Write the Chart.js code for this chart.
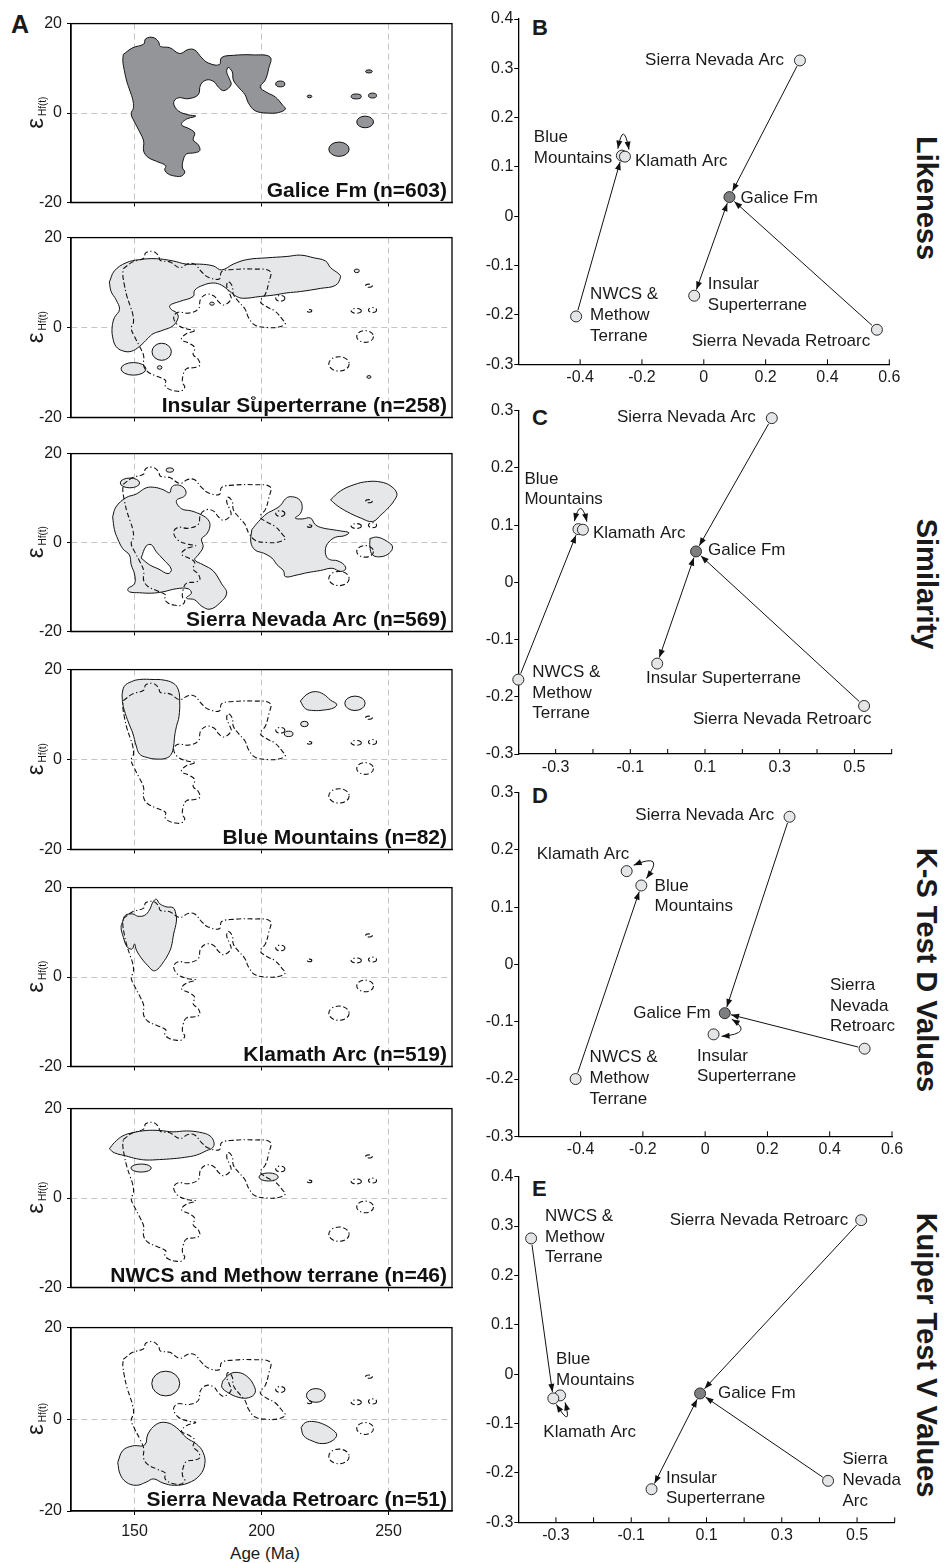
<!DOCTYPE html>
<html>
<head>
<meta charset="utf-8">
<script src="https://cdn.jsdelivr.net/npm/chart.js@4.4.1/dist/chart.umd.min.js"></script>
<style>
  body { margin: 0; background: #fff; width: 944px; height: 1563px; position: relative; overflow: hidden;
         font-family: 'Liberation Sans', Arial, sans-serif; color: #1a1a1a; }
  .box { position: absolute; }
  .txt { position: absolute; line-height: 1; white-space: nowrap; }
  .side { position: absolute; line-height: 1; white-space: nowrap; font-weight: bold; font-size: 29px;
          transform: translate(-50%, -50%) rotate(90deg); }
</style>
</head>
<body>
<div class="txt" style="left:11px;top:12px;font-weight:bold;font-size:25px">A</div>
<div class="txt" style="left:532px;top:17px;font-weight:bold;font-size:22px">B</div>
<div class="txt" style="left:532px;top:407px;font-weight:bold;font-size:22px">C</div>
<div class="txt" style="left:532px;top:785px;font-weight:bold;font-size:22px">D</div>
<div class="txt" style="left:532px;top:1178px;font-weight:bold;font-size:22px">E</div>
<div class="side" style="left:926px;top:198px">Likeness</div>
<div class="side" style="left:926px;top:584px">Similarity</div>
<div class="side" style="left:926px;top:970px">K-S Test D Values</div>
<div class="side" style="left:926px;top:1355px">Kuiper Test V Values</div>
<div class="txt" style="left:265px;top:1545px;transform:translateX(-50%);font-size:17px">Age (Ma)</div>

<script>
// ---------- left column: εHf(t) vs age density contours ----------
const ageTicks = [150, 200, 250];
const epsTicks = [-20, 0, 20];
const ageRange = [125, 275];
const epsRange = [-20, 20];

const panelTitles = ['Galice Fm (n=603)', 'Insular Superterrane (n=258)', 'Sierra Nevada Arc (n=569)',
  'Blue Mountains (n=82)', 'Klamath Arc (n=519)', 'NWCS and Methow terrane (n=46)', 'Sierra Nevada Retroarc (n=51)'];

// contour outlines [age, eps]
const galiceMain = [[145.6,13.1],[149.3,14.6],[153.6,15.4],[154.4,16.6],[157.3,16.9],[159.4,16.0],[160.2,14.9],
  [163.9,14.6],[167.8,13.3],[171.1,14.2],[173.7,14.1],[176.4,12.4],[179.0,11.2],[183.4,10.8],[184.3,12.4],
  [188.9,12.9],[196.8,13.0],[203.4,12.5],[202.8,9.9],[201.5,7.4],[199.5,5.8],[202.1,4.6],[205.4,3.6],[208.4,1.7],
  [209.4,0.9],[206.7,0.1],[202.1,0.0],[197.5,0.5],[194.9,2.2],[193.5,4.1],[190.9,5.8],[188.9,7.4],[188.5,9.2],
  [186.9,10.2],[186.3,9.2],[187.3,7.7],[188.0,6.3],[185.2,5.0],[183.0,5.8],[181.3,7.0],[178.4,7.4],[176.0,6.3],
  [175.1,4.1],[171.1,3.2],[167.2,3.4],[165.4,2.3],[167.2,0.5],[171.1,-0.4],[174.1,-0.7],[170.4,-1.4],[168.5,-2.6],
  [171.8,-3.6],[173.7,-4.5],[173.1,-6.0],[175.1,-7.1],[175.7,-8.4],[173.7,-8.9],[170.4,-9.2],[169.1,-10.7],
  [168.9,-12.3],[169.8,-13.2],[168.5,-14.1],[165.8,-14.1],[163.2,-13.6],[161.9,-12.7],[162.3,-11.8],[158.6,-10.8],
  [155.3,-9.9],[153.6,-8.5],[153.6,-6.3],[152.0,-4.2],[150.0,-2.0],[148.7,-0.2],[149.6,1.2],[149.3,3.0],[148.3,4.8],
  [147.0,7.0],[146.0,9.5],[145.4,11.7]];
// small contours [age, eps, half-width, half-height]
const galiceSpots = [[207.4,6.5,1.8,0.65],[218.9,3.7,0.9,0.3],[237.3,3.7,2.0,0.55],[243.7,3.9,1.6,0.55],
  [242.3,9.3,1.3,0.35],[240.8,-2.0,3.3,1.3],[230.5,-8.1,4.0,1.6]];

const insularMain = [[140.1,10.1],[142.1,12.6],[146.7,14.4],[152.0,15.1],[158.6,15.3],[165.2,14.8],[170.4,14.1],
  [175.7,14.1],[181.0,13.7],[184.3,12.8],[188.9,14.1],[194.2,15.1],[202.1,15.5],[210.0,15.8],[215.3,16.1],
  [220.6,15.5],[225.2,14.8],[227.2,13.3],[230.5,11.9],[231.1,11.2],[229.2,9.4],[223.2,8.7],[215.3,8.0],[210.0,7.7],
  [204.7,7.2],[199.5,6.9],[192.9,6.5],[190.2,6.9],[187.6,8.0],[184.3,9.4],[181.0,9.9],[177.0,9.4],[173.7,8.3],
  [173.1,6.9],[167.8,5.8],[163.9,4.9],[164.5,4.0],[166.5,3.3],[167.2,2.2],[165.2,0.4],[161.2,-0.6],[157.3,-1.4],
  [155.3,-2.4],[152.0,-4.2],[148.7,-5.3],[145.4,-5.2],[142.7,-4.2],[141.4,-2.1],[141.2,0.1],[142.1,2.2],[144.1,4.0],
  [142.7,6.2],[140.8,8.0]];
const insularSpots = [[160.7,-5.4,3.8,1.9],[149.6,-9.2,4.9,1.4],[159.9,-8.9,0.9,0.4],[180.5,5.3,0.9,0.35],
  [196.8,-15.7,0.8,0.3],[237.5,12.6,1.0,0.4],[242.3,-11.0,0.8,0.3]];

const snaLeft = [[141.4,5.8],[142.7,8.0],[146.7,10.1],[150.7,10.9],[154.6,12.3],[157.9,12.4],[161.2,11.9],[163.9,11.2],
  [164.5,12.3],[165.8,12.9],[168.5,12.7],[170.2,11.6],[169.8,10.5],[166.5,9.4],[168.5,7.6],[172.4,7.1],[176.4,6.2],
  [179.0,5.1],[179.7,3.7],[178.4,1.9],[176.4,0.8],[177.0,-1.0],[175.1,-2.8],[173.7,-3.9],[177.0,-5.0],[181.0,-6.4],
  [184.3,-9.3],[186.3,-11.4],[183.6,-13.6],[179.7,-15.0],[176.4,-14.3],[173.7,-12.9],[170.4,-12.5],[172.4,-11.4],
  [171.1,-10.4],[166.5,-10.4],[161.2,-11.1],[156.6,-11.4],[152.0,-11.3],[148.0,-11.1],[147.4,-10.4],[150.0,-9.3],
  [150.0,-7.1],[148.7,-5.0],[148.0,-2.8],[145.4,-1.4],[143.4,0.8],[142.1,2.9]];
const snaHole = [[152.6,-3.5],[154.6,-0.8],[156.6,-0.5],[158.6,-2.1],[161.2,-3.7],[164.5,-6.0],[163.2,-7.0],
  [159.6,-6.0],[155.9,-5.0]];
const snaMid = [[196.2,2.9],[198.8,4.7],[202.1,6.5],[204.7,7.3],[207.4,8.3],[209.4,9.8],[211.3,10.3],[214.6,9.8],
  [216.0,8.3],[215.3,6.5],[213.3,5.5],[216.0,5.3],[219.3,5.5],[221.2,4.0],[223.9,3.3],[227.8,2.9],[231.1,2.6],
  [234.4,2.2],[232.5,1.5],[229.2,1.2],[226.5,0.1],[225.2,-1.4],[225.6,-3.2],[227.2,-3.9],[229.8,-4.1],[232.5,-5.0],
  [233.1,-6.0],[231.1,-6.5],[227.8,-5.8],[223.2,-6.3],[217.9,-6.8],[214.0,-7.3],[209.4,-7.7],[208.7,-6.4],
  [206.1,-5.0],[204.1,-3.5],[200.8,-2.4],[197.5,-1.7],[195.8,0.1]];
const snaTopRight = [[227.2,9.6],[231.1,11.6],[236.4,13.0],[241.7,13.7],[247.0,13.6],[250.9,12.7],[253.3,11.0],
  [252.2,9.4],[249.6,7.6],[247.0,6.2],[243.7,4.7],[239.1,5.5],[233.8,6.9],[229.8,8.3]];
const snaRight = [[242.7,0.9],[245.6,1.2],[249.6,0.2],[251.6,-1.0],[250.3,-2.4],[247.0,-3.2],[243.7,-2.8],[242.7,-1.0]];
const snaSpots = [[148.2,13.4,3.8,1.1],[163.9,16.3,1.5,0.5]];

const blueMain = [[145.1,14.5],[146.0,16.3],[148.7,17.3],[152.0,17.8],[157.3,17.8],[161.2,17.7],[165.2,17.0],
  [167.2,15.6],[167.8,13.0],[167.5,9.5],[166.5,7.3],[165.8,5.2],[165.4,3.0],[164.5,1.2],[162.5,0.3],[158.6,0.1],
  [154.6,0.5],[152.0,1.2],[150.7,3.0],[149.3,5.9],[148.0,7.7],[146.4,10.2],[145.4,12.3]];
const blueRight = [[215.3,13.0],[217.9,14.5],[221.2,15.1],[224.5,14.5],[227.2,13.2],[229.6,12.3],[228.5,11.5],
  [224.5,11.0],[220.6,10.9],[217.3,11.3]];
const blueSpots = [[236.8,12.5,4.0,1.6],[216.9,7.9,1.5,0.6],[210.7,5.7,1.7,0.6]];

const klamathMain = [[145.4,12.5],[146.4,13.8],[149.3,14.1],[151.3,13.6],[154.0,13.8],[155.9,15.0],[157.3,16.8],
  [158.6,17.4],[159.9,16.4],[162.5,15.7],[165.2,15.5],[166.2,14.3],[166.5,12.5],[165.4,9.6],[164.5,6.8],[163.2,5.0],
  [161.2,3.2],[159.2,1.8],[157.5,1.4],[155.3,2.5],[152.6,4.3],[150.7,6.1],[150.0,7.4],[149.3,6.4],[148.7,6.2],
  [147.0,6.8],[145.6,8.9],[144.7,11.1]];

const nwcsMain = [[140.1,11.0],[142.1,12.4],[145.4,13.9],[149.3,14.6],[154.6,15.1],[159.9,15.1],[165.2,14.8],
  [170.4,15.0],[175.7,14.7],[179.7,13.9],[181.3,12.4],[180.7,11.2],[178.4,10.6],[174.4,9.6],[169.8,9.1],[165.2,8.8],
  [159.9,8.6],[154.6,8.5],[150.7,8.8],[146.7,9.4],[142.1,10.1]];
const nwcsSpots = [[152.6,6.7,4.0,0.9],[202.8,4.7,3.8,0.9]];

const retroBottom = [[143.4,-9.4],[145.4,-6.8],[149.3,-5.8],[154.0,-5.6],[155.3,-3.2],[158.6,-1.1],[162.5,-0.7],
  [166.5,-1.8],[170.4,-4.0],[174.4,-5.4],[177.0,-7.2],[177.7,-9.7],[175.7,-12.2],[171.1,-13.9],[165.8,-14.4],
  [161.2,-13.9],[157.5,-13.0],[154.6,-13.7],[150.7,-14.4],[146.7,-13.7],[144.3,-11.9]];
const retroMid = [[184.7,8.3],[187.6,9.9],[190.9,10.2],[194.2,9.4],[196.8,7.6],[197.5,5.8],[194.9,4.7],[190.9,4.8],
  [186.9,5.8],[184.4,7.0]];
const retroRight = [[215.6,-1.8],[217.3,-0.7],[220.6,-0.5],[224.5,-1.1],[227.8,-2.2],[229.6,-3.4],[227.8,-4.7],
  [223.9,-5.3],[219.9,-4.7],[216.6,-3.6]];
const retroSpots = [[162.3,7.8,5.5,2.7],[221.4,5.2,3.7,1.5]];

const leftPanels = [
  { shapes: [], holes: [], spots: [] },
  { shapes: [insularMain], holes: [], spots: insularSpots },
  { shapes: [snaLeft, snaMid, snaTopRight, snaRight], holes: [snaHole], spots: snaSpots },
  { shapes: [blueMain, blueRight], holes: [], spots: blueSpots },
  { shapes: [klamathMain], holes: [], spots: [] },
  { shapes: [nwcsMain], holes: [], spots: nwcsSpots },
  { shapes: [retroBottom, retroMid, retroRight], holes: [], spots: retroSpots }
];

// ---------- right column: MDS plots ----------
// order: Galice Fm, Sierra Nevada Arc, Blue Mountains, Klamath Arc, Insular Superterrane, NWCS & Methow, SN Retroarc
const likenessX   = [0.083, 0.311, -0.265, -0.255, -0.031, -0.413, 0.560];
const likenessY   = [0.039, 0.316, 0.123, 0.121, -0.161, -0.203, -0.230];
const similarityX = [0.076, 0.279, -0.239, -0.227, -0.028, -0.400, 0.526];
const similarityY = [0.054, 0.287, 0.093, 0.092, -0.142, -0.170, -0.216];
const ksX         = [0.063, 0.271, -0.205, -0.252, 0.027, -0.416, 0.512];
const ksY         = [-0.085, 0.258, 0.138, 0.163, -0.122, -0.200, -0.147];
const kuiperX     = [0.083, 0.423, -0.289, -0.307, -0.046, -0.366, 0.511];
const kuiperY     = [-0.039, -0.216, -0.043, -0.049, -0.233, 0.275, 0.312];

const mdsXRange = [[-0.6, 0.6], [-0.4, 0.6], [-0.6, 0.6], [-0.4, 0.6]];
const mdsYRange = [[-0.3, 0.4], [-0.3, 0.3], [-0.3, 0.3], [-0.3, 0.4]];
const evenTicks = [-0.4, -0.2, 0, 0.2, 0.4, 0.6];
const tenthTicks = [-0.3, -0.2, -0.1, 0, 0.1, 0.2, 0.3, 0.4, 0.5, 0.6];
const oddLabels = [-0.3, -0.1, 0.1, 0.3, 0.5];
const yTicksTall = [-0.3, -0.2, -0.1, 0, 0.1, 0.2, 0.3, 0.4];
const yTicksShort = [-0.3, -0.2, -0.1, 0, 0.1, 0.2, 0.3];

// arrows [from, to, heads]; loops [a, b] drawn as curved double arrows
const likenessArrows   = [[1, 0, 1], [5, 2, 1], [4, 0, 2], [6, 0, 1]];
const similarityArrows = [[1, 0, 1], [5, 2, 1], [4, 0, 2], [6, 0, 1]];
const ksArrows         = [[1, 0, 1], [5, 2, 1], [6, 0, 1]];
const kuiperArrows     = [[5, 3, 1], [6, 0, 1], [1, 0, 1], [4, 0, 2]];
const likenessLoops = [[2, 3]];
const similarityLoops = [[2, 3]];
const ksLoops = [[3, 2], [0, 4]];
const kuiperLoops = [[3, 2]];

// ---------- layout / style ----------
Chart.defaults.font.family = "'Liberation Sans', Arial, sans-serif";
Chart.defaults.font.size = 16;
Chart.defaults.color = '#1a1a1a';

const FONT = "'Liberation Sans', Arial, sans-serif";
const leftTops = [21.7, 235.7, 451, 667.7, 885, 1106.7, 1325.7];
const leftBottoms = [206.7, 421.7, 636, 853.3, 1070.7, 1291.7, 1511];
const sampleFill = '#e6e7e8';
const galiceFill = '#939598';
const galiceDash = [5, 2.5, 5, 2.5, 1.3, 2.5];

function place(x, y, w, h) {
  const d = document.createElement('div');
  d.className = 'box';
  d.style.left = x + 'px';
  d.style.top = y + 'px';
  d.style.width = w + 'px';
  d.style.height = h + 'px';
  const c = document.createElement('canvas');
  d.appendChild(c);
  document.body.appendChild(d);
  return c;
}

function poly(pts, fill, dash, order) {
  return {
    data: pts.concat([pts[0]]).map(([x, y]) => ({ x, y })),
    order: order,
    borderColor: '#111',
    borderWidth: dash.length ? 1.1 : 1,
    borderDash: dash,
    borderJoinStyle: 'round',
    backgroundColor: fill || 'rgba(0,0,0,0)',
    fill: fill ? 'shape' : false,
    tension: 0.4,
    pointRadius: 0
  };
}

function drawSpots(chart, spots, fill, dash) {
  const { ctx, scales: { x, y } } = chart;
  ctx.save();
  ctx.lineWidth = dash.length ? 1.1 : 1;
  ctx.strokeStyle = '#111';
  ctx.setLineDash(dash);
  spots.forEach(([cx, cy, rx, ry]) => {
    const px = x.getPixelForValue(cx), py = y.getPixelForValue(cy);
    const prx = Math.abs(x.getPixelForValue(cx + rx) - px);
    const pry = Math.abs(y.getPixelForValue(cy + ry) - py);
    ctx.beginPath();
    ctx.ellipse(px, py, prx, pry, 0, 0, Math.PI * 2);
    if (fill) { ctx.fillStyle = fill; ctx.fill(); }
    ctx.stroke();
  });
  ctx.restore();
}

function leftPanel(i) {
  const p = leftPanels[i];
  const T = leftTops[i], B = leftBottoms[i], last = i === 6;
  const top = Math.floor(T) - 12;
  const height = Math.ceil(B + (last ? 52 : 10)) - top;
  const xH = top + height - B;
  const canvas = place(0, top, 470, height);

  const datasets = [];
  if (i === 0) {
    datasets.push(poly(galiceMain, galiceFill, [], 1));
  } else {
    p.shapes.forEach(s => datasets.push(poly(s, sampleFill, [], 3)));
    p.holes.forEach(s => datasets.push(poly(s, '#fff', [], 2)));
    datasets.push(poly(galiceMain, null, galiceDash, 1));
  }

  new Chart(canvas, {
    type: 'line',
    data: { datasets },
    options: {
      animation: false,
      responsive: true,
      maintainAspectRatio: false,
      layout: { padding: { top: T - top, right: 18, left: 0, bottom: 0 } },
      plugins: { legend: { display: false }, tooltip: { enabled: false } },
      scales: {
        x: {
          type: 'linear', min: ageRange[0], max: ageRange[1],
          afterBuildTicks: s => { s.ticks = ageTicks.map(v => ({ value: v })); },
          afterFit: s => { s.height = xH; },
          ticks: { display: last, padding: 7, font: { size: 16 }, callback: v => String(v) },
          grid: { color: '#c4c4c4', lineWidth: 1, tickColor: '#000', tickLength: 4, tickWidth: 1, tickBorderDash: [] },
          border: { display: true, color: '#000', width: 1.3, dash: [6, 4] }
        },
        y: {
          min: epsRange[0], max: epsRange[1],
          afterBuildTicks: s => { s.ticks = epsTicks.map(v => ({ value: v })); },
          afterFit: s => { s.width = 71; },
          ticks: { padding: 5, font: { size: 16 }, callback: v => String(v) },
          grid: {
            color: c => (c.tick && c.tick.value === 0 ? '#c4c4c4' : 'rgba(0,0,0,0)'),
            lineWidth: 1, tickColor: '#000', tickLength: 4, tickWidth: 1, tickBorderDash: []
          },
          border: { display: true, color: '#000', width: 1.3, dash: [6, 4] }
        }
      }
    },
    plugins: [{
      id: 'contours',
      beforeDatasetsDraw(chart) {
        if (i === 0) drawSpots(chart, galiceSpots, galiceFill, []);
        else drawSpots(chart, p.spots, sampleFill, []);
      },
      afterDatasetsDraw(chart) {
        if (i > 0) drawSpots(chart, galiceSpots, null, galiceDash);
      },
      afterDraw(chart) {
        const { ctx, chartArea: a } = chart;
        ctx.save();
        ctx.strokeStyle = '#000';
        ctx.lineWidth = 1.3;
        ctx.strokeRect(a.left, a.top, a.right - a.left, a.bottom - a.top);
        ctx.fillStyle = '#111';
        ctx.font = 'bold 21px ' + FONT;
        ctx.textAlign = 'right';
        ctx.textBaseline = 'alphabetic';
        ctx.fillText(panelTitles[i], a.right - 5, a.bottom - 5);
        // y axis title: ε Hf(t), rotated
        ctx.translate(43, chart.scales.y.getPixelForValue(0));
        ctx.rotate(-Math.PI / 2);
        ctx.fillStyle = '#1a1a1a';
        ctx.font = '24px ' + FONT;
        ctx.fillText('ε', -5, 0);
        ctx.font = '10px ' + FONT;
        ctx.textAlign = 'left';
        ctx.fillText('Hf(t)', -3, 3);
        ctx.restore();
      }
    }]
  });
}

for (let i = 0; i < 7; i++) leftPanel(i);

// ---------- MDS panels ----------
const mdsX = [likenessX, similarityX, ksX, kuiperX];
const mdsY = [likenessY, similarityY, ksY, kuiperY];
const mdsXTicks = [evenTicks, tenthTicks, evenTicks, tenthTicks];
const mdsXLabels = [evenTicks, oddLabels, evenTicks, oddLabels];
const mdsYTicks = [yTicksTall, yTicksShort, yTicksShort, yTicksTall];
const mdsArrows = [likenessArrows, similarityArrows, ksArrows, kuiperArrows];
const mdsLoops = [likenessLoops, similarityLoops, ksLoops, kuiperLoops];

const mdsArea = [[19, 364.3, 889.3], [410.7, 754, 891.7], [792.7, 1136.3, 892], [1176.7, 1522.3, 894.7]];
// loop styling: [offset at start, offset at end, control bend] in px
const loopStyle = [
  [[[-4, -7], [4, -7], [0, -30]]],
  [[[-4, -8], [4, -8], [0, -26]]],
  [[[7, -6], [5, -7], [26, -20]], [[7, 6], [8, 2], [28, 5.6]]],
  [[[3, 6], [5, 7], [12, 27]]]
];
// label placement: [point, lines, dx, dy, align]
const mdsLabels = [
  [[1, ['Sierra Nevada Arc'], -16, 0, 'right'], [2, ['Blue', 'Mountains'], -88, -18, 'left'],
   [3, ['Klamath Arc'], 10, 5, 'left'], [0, ['Galice Fm'], 11, 1, 'left'],
   [4, ['Insular', 'Superterrane'], 13.6, -11, 'left'], [5, ['NWCS &', 'Methow', 'Terrane'], 14, -21.7, 'left'],
   [6, ['Sierra Nevada Retroarc'], -6.7, 11.7, 'right']],
  [[1, ['Sierra Nevada Arc'], -16, -1, 'right'], [2, ['Blue', 'Mountains'], -54, -50.3, 'left'],
   [3, ['Klamath Arc'], 10, 4, 'left'], [0, ['Galice Fm'], 12, -1, 'left'],
   [4, ['Insular Superterrane'], -11.3, 14.3, 'left'], [5, ['NWCS &', 'Methow', 'Terrane'], 14, -7.3, 'left'],
   [6, ['Sierra Nevada Retroarc'], 7.4, 13.4, 'right']],
  [[1, ['Sierra Nevada Arc'], -15.3, -1, 'right'], [3, ['Klamath Arc'], 2.7, -17, 'right'],
   [2, ['Blue', 'Mountains'], 13.3, 0.4, 'left'], [0, ['Galice Fm'], -14, 0, 'right'],
   [4, ['Insular', 'Superterrane'], -16.6, 21.7, 'left'], [6, ['Sierra', 'Nevada', 'Retroarc'], -34.7, -63.3, 'left'],
   [5, ['NWCS &', 'Methow', 'Terrane'], 14, -21.3, 'left']],
  [[5, ['NWCS &', 'Methow', 'Terrane'], 14, -22.3, 'left'], [6, ['Sierra Nevada Retroarc'], -13, 0, 'right'],
   [2, ['Blue', 'Mountains'], -4, -36.3, 'left'], [3, ['Klamath Arc'], -10, 33.7, 'left'],
   [0, ['Galice Fm'], 18, 0, 'left'], [4, ['Insular', 'Superterrane'], 14.4, -11.3, 'left'],
   [1, ['Sierra', 'Nevada', 'Arc'], 14.3, -21.4, 'left']]
];

function head(ctx, x, y, ang) {
  const L = 8, W = 3;
  const c = Math.cos(ang), s = Math.sin(ang);
  ctx.beginPath();
  ctx.moveTo(x, y);
  ctx.lineTo(x - L * c + W * s, y - L * s - W * c);
  ctx.lineTo(x - L * c - W * s, y - L * s + W * c);
  ctx.closePath();
  ctx.fill();
}

function mdsPanel(k) {
  const [aTop, aBottom, aRight] = mdsArea[k];
  const top = Math.floor(aTop) - 12;
  const height = Math.ceil(aBottom + 30) - top;
  const xH = top + height - aBottom;
  const canvas = place(470, top, 474, height);
  const xs = mdsX[k], ys = mdsY[k];

  new Chart(canvas, {
    type: 'scatter',
    data: {
      datasets: [{
        data: xs.map((x, i) => ({ x, y: ys[i] })),
        pointRadius: 5.5,
        pointBackgroundColor: xs.map((_, i) => (i === 0 ? '#7d7e80' : '#e4e5e6')),
        pointBorderColor: '#2a2a2a',
        pointBorderWidth: 1,
        clip: false
      }]
    },
    options: {
      animation: false,
      responsive: true,
      maintainAspectRatio: false,
      layout: { padding: { top: aTop - top, right: 944 - aRight, left: 0, bottom: 0 } },
      plugins: { legend: { display: false }, tooltip: { enabled: false } },
      scales: {
        x: {
          type: 'linear', min: mdsXRange[k][0], max: mdsXRange[k][1],
          afterBuildTicks: s => { s.ticks = mdsXTicks[k].map(v => ({ value: v })); },
          afterFit: s => { s.height = xH; },
          ticks: {
            padding: 4, font: { size: 16 },
            callback: v => (mdsXLabels[k].some(l => Math.abs(l - v) < 1e-6) ? String(+v.toFixed(1)) : '')
          },
          grid: { display: false, drawTicks: false },
          border: { display: true, color: '#000', width: 1.3 }
        },
        y: {
          min: mdsYRange[k][0], max: mdsYRange[k][1],
          afterBuildTicks: s => { s.ticks = mdsYTicks[k].map(v => ({ value: v })); },
          afterFit: s => { s.width = 48.3; },
          ticks: { padding: 1, font: { size: 16 }, callback: v => String(+v.toFixed(1)) },
          grid: { drawOnChartArea: false, drawTicks: true, tickLength: 4, color: '#000', tickColor: '#000' },
          border: { display: true, color: '#000', width: 1.3 }
        }
      }
    },
    plugins: [{
      id: 'mds',
      beforeDatasetsDraw(chart) {
        const { ctx, scales: { x, y } } = chart;
        const P = i => ({ x: x.getPixelForValue(xs[i]), y: y.getPixelForValue(ys[i]) });
        ctx.save();
        ctx.strokeStyle = '#111';
        ctx.fillStyle = '#111';
        ctx.lineWidth = 1;
        const r = 6.5;
        mdsArrows[k].forEach(([f, t, heads]) => {
          const a = P(f), b = P(t);
          const ang = Math.atan2(b.y - a.y, b.x - a.x);
          const sx = a.x + r * Math.cos(ang), sy = a.y + r * Math.sin(ang);
          const ex = b.x - r * Math.cos(ang), ey = b.y - r * Math.sin(ang);
          ctx.beginPath();
          ctx.moveTo(sx, sy);
          ctx.lineTo(ex, ey);
          ctx.stroke();
          head(ctx, ex, ey, ang);
          if (heads === 2) head(ctx, sx, sy, ang + Math.PI);
        });
        mdsLoops[k].forEach(([f, t], j) => {
          const [oa, ob, bend] = loopStyle[k][j];
          const a = P(f), b = P(t);
          const s = { x: a.x + oa[0], y: a.y + oa[1] };
          const e = { x: b.x + ob[0], y: b.y + ob[1] };
          const c = { x: (s.x + e.x) / 2 + bend[0], y: (s.y + e.y) / 2 + bend[1] };
          ctx.beginPath();
          ctx.moveTo(s.x, s.y);
          ctx.quadraticCurveTo(c.x, c.y, e.x, e.y);
          ctx.stroke();
          head(ctx, e.x, e.y, Math.atan2(e.y - c.y, e.x - c.x));
          head(ctx, s.x, s.y, Math.atan2(s.y - c.y, s.x - c.x));
        });
        ctx.restore();
      },
      afterDraw(chart) {
        const { ctx, chartArea: area, scales: { x, y } } = chart;
        ctx.save();
        // inward tick marks on the x axis
        ctx.strokeStyle = '#000';
        ctx.lineWidth = 1;
        x.ticks.forEach(t => {
          const px = x.getPixelForValue(t.value);
          ctx.beginPath();
          ctx.moveTo(px, area.bottom);
          ctx.lineTo(px, area.bottom - 5);
          ctx.stroke();
        });
        // point labels
        ctx.fillStyle = '#1a1a1a';
        ctx.font = '17px ' + FONT;
        ctx.textBaseline = 'middle';
        mdsLabels[k].forEach(([i, lines, dx, dy, align]) => {
          const px = x.getPixelForValue(xs[i]), py = y.getPixelForValue(ys[i]);
          ctx.textAlign = align;
          lines.forEach((ln, n) => ctx.fillText(ln, px + dx, py + dy + n * 20.7));
        });
        ctx.restore();
      }
    }]
  });
}

for (let k = 0; k < 4; k++) mdsPanel(k);
</script>
</body>
</html>
